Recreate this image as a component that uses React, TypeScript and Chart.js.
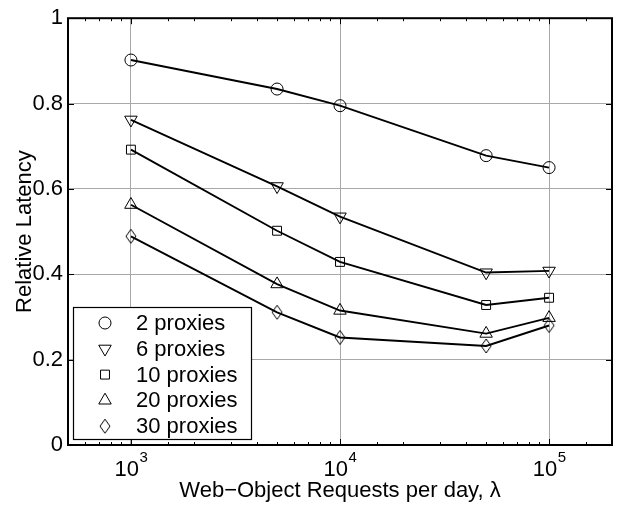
import React, { useEffect, useRef } from 'react';
import { Chart, registerables } from 'chart.js';
import { drawPoint } from 'chart.js/helpers';

Chart.register(...registerables);

const X_VALUES = [1000, 5000, 10000, 50000, 100000];
const SERIES_LABELS = ['2 proxies', '6 proxies', '10 proxies', '20 proxies', '30 proxies'];
const P2 = [0.902, 0.834, 0.795, 0.678, 0.65];
const P6 = [0.762, 0.606, 0.535, 0.404, 0.408];
const P10 = [0.692, 0.502, 0.429, 0.328, 0.345];
const P20 = [0.563, 0.377, 0.315, 0.261, 0.298];
const P30 = [0.489, 0.311, 0.252, 0.232, 0.28];
const X_MAJOR = [1000, 10000, 100000];
const X_TICK_EXP = ['3', '4', '5'];
const Y_TICKS = [0, 0.2, 0.4, 0.6, 0.8, 1];
const Y_TICK_LABELS = ['0', '0.2', '0.4', '0.6', '0.8', '1'];
const X_TITLE = 'Web\u2212Object Requests per day, \u03bb';
const Y_TITLE = 'Relative Latency';

const FONT = '"Liberation Sans", Arial, Helvetica, sans-serif';
const FS = 22;
const GRID = '#a8a8a8';

const isMajor = (v: number) => {
  const l = Math.log10(v);
  return Math.abs(l - Math.round(l)) < 1e-9;
};

function makeDiamond(): HTMLCanvasElement {
  const c = document.createElement('canvas');
  c.width = 14;
  c.height = 18;
  const g = c.getContext('2d')!;
  g.strokeStyle = '#000';
  g.lineWidth = 1;
  g.beginPath();
  g.moveTo(7, 2);
  g.lineTo(12, 9);
  g.lineTo(7, 16);
  g.lineTo(2, 9);
  g.closePath();
  g.stroke();
  return c;
}

export default function App() {
  const ref = useRef<HTMLCanvasElement>(null);
  useEffect(() => {
    const diamond = makeDiamond();
    const styles: any[] = [
      { pointStyle: 'circle', radius: 6, rotation: 0 },
      { pointStyle: 'triangle', radius: 7.2, rotation: 180 },
      { pointStyle: 'rect', radius: 6.3, rotation: 0 },
      { pointStyle: 'triangle', radius: 7.2, rotation: 0 },
      { pointStyle: diamond, radius: 7, rotation: 0 },
    ];
    const series = [P2, P6, P10, P20, P30];

    const framePlugin = {
      id: 'frame',
      afterDraw(chart: any) {
        const { ctx, chartArea: a, scales } = chart;
        const xs = scales.x;
        const ys = scales.y;
        ctx.save();
        ctx.strokeStyle = '#000';
        ctx.lineWidth = 1;
        xs.ticks.forEach((t: any) => {
          const px = Math.round(xs.getPixelForValue(t.value)) + 0.5;
          if (px < a.left + 1 || px > a.right - 1) return;
          const len = isMajor(t.value) ? 6 : 3;
          ctx.beginPath();
          ctx.moveTo(px, a.bottom);
          ctx.lineTo(px, a.bottom - len);
          ctx.moveTo(px, a.top);
          ctx.lineTo(px, a.top + len);
          ctx.stroke();
        });
        Y_TICKS.forEach((v) => {
          const py = Math.round(ys.getPixelForValue(v)) + 0.5;
          ctx.beginPath();
          ctx.moveTo(a.left, py);
          ctx.lineTo(a.left + 6, py);
          ctx.moveTo(a.right, py);
          ctx.lineTo(a.right - 6, py);
          ctx.stroke();
        });
        ctx.lineWidth = 2;
        ctx.strokeRect(a.left, a.top, a.right - a.left, a.bottom - a.top);

        ctx.fillStyle = '#000';
        ctx.textBaseline = 'alphabetic';
        ctx.textAlign = 'left';
        X_MAJOR.forEach((v, i) => {
          const px = xs.getPixelForValue(v);
          ctx.font = `${FS}px ${FONT}`;
          const w1 = ctx.measureText('10').width;
          ctx.font = `15px ${FONT}`;
          const w2 = ctx.measureText(X_TICK_EXP[i]).width;
          const x0 = px - (w1 + w2) / 2;
          ctx.font = `${FS}px ${FONT}`;
          ctx.fillText('10', x0, 476);
          ctx.font = `15px ${FONT}`;
          ctx.fillText(X_TICK_EXP[i], x0 + w1 + 0.5, 462);
        });

        const lx = 73, ly = 307, lw = 178, lh = 132;
        ctx.fillStyle = '#fff';
        ctx.fillRect(lx, ly, lw, lh);
        ctx.lineWidth = 1.2;
        ctx.strokeStyle = '#000';
        ctx.strokeRect(lx + 0.5, ly + 0.5, lw, lh);
        SERIES_LABELS.forEach((lab, i) => {
          const cy = 323 + i * 25.8;
          ctx.strokeStyle = '#000';
          ctx.fillStyle = 'rgba(0,0,0,0)';
          ctx.lineWidth = 1;
          drawPoint(ctx, { ...styles[i], borderWidth: 1 }, 105, cy);
          ctx.fillStyle = '#000';
          ctx.font = `${FS}px ${FONT}`;
          ctx.textBaseline = 'middle';
          ctx.textAlign = 'left';
          ctx.fillText(lab, 136, cy + 1);
        });
        ctx.restore();
      },
    };

    const chart = new Chart(ref.current!, {
      type: 'line',
      data: {
        datasets: series.map((s, i) => ({
          label: SERIES_LABELS[i],
          data: X_VALUES.map((x, j) => ({ x, y: s[j] })),
          borderColor: '#000',
          borderWidth: 1.9,
          pointStyle: styles[i].pointStyle,
          pointRadius: styles[i].radius,
          pointRotation: styles[i].rotation,
          pointBorderColor: '#000',
          pointBackgroundColor: 'rgba(0,0,0,0)',
          pointBorderWidth: 1,
          tension: 0,
          fill: false,
        })),
      },
      options: {
        animation: false,
        responsive: false,
        layout: { padding: { top: 6, right: 15, left: 0, bottom: 0 } },
        plugins: { legend: { display: false }, tooltip: { enabled: false } },
        scales: {
          x: {
            type: 'logarithmic',
            min: 500,
            max: 200000,
            ticks: { display: false, autoSkip: false },
            grid: {
              drawTicks: false,
              lineWidth: 1,
              color: (c: any) => (c.tick && isMajor(c.tick.value) ? GRID : 'rgba(0,0,0,0)'),
            },
            border: { display: false },
            title: {
              display: true,
              text: X_TITLE,
              color: '#000',
              font: { family: FONT, size: FS },
              padding: { top: 0, bottom: 2 },
            },
            afterFit: (s: any) => {
              s.height = 61;
            },
          },
          y: {
            type: 'linear',
            min: 0,
            max: 1,
            afterBuildTicks: (s: any) => {
              s.ticks = Y_TICKS.map((v) => ({ value: v }));
            },
            ticks: {
              color: '#000',
              font: { family: FONT, size: FS },
              padding: 5,
              callback: (v: any) => {
                const i = Y_TICKS.findIndex((t) => Math.abs(t - v) < 1e-9);
                return i >= 0 ? Y_TICK_LABELS[i] : '';
              },
            },
            grid: {
              drawTicks: false,
              lineWidth: 1,
              color: (c: any) => (c.tick && c.tick.value > 0 && c.tick.value < 1 ? GRID : 'rgba(0,0,0,0)'),
            },
            border: { display: false },
            title: {
              display: true,
              text: Y_TITLE,
              color: '#000',
              font: { family: FONT, size: FS },
              padding: { top: 12, bottom: 0 },
            },
            afterFit: (s: any) => {
              s.width = 68;
            },
          },
        },
      },
      plugins: [framePlugin],
    } as any);
    return () => chart.destroy();
  }, []);

  return (
    <div style={{ position: 'fixed', left: 0, top: 0, width: 627, height: 506, background: '#fff' }}>
      <canvas ref={ref} width={627} height={506} style={{ display: 'block' }} />
    </div>
  );
}
